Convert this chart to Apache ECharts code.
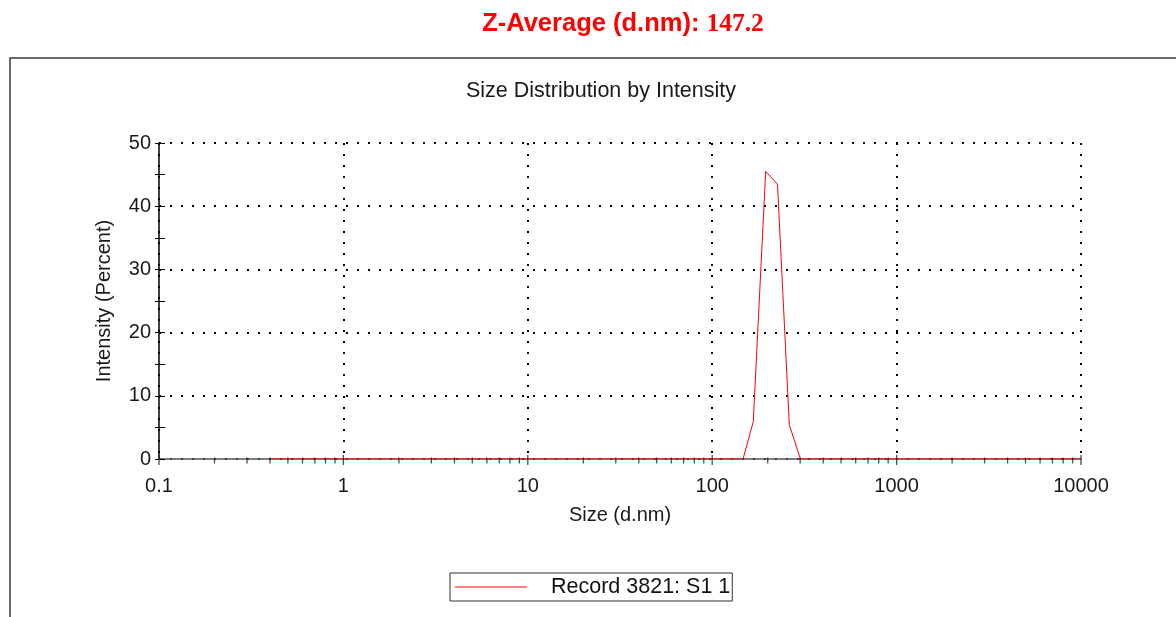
<!DOCTYPE html>
<html>
<head>
<meta charset="utf-8">
<title>Size Distribution by Intensity</title>
<script src="https://cdn.jsdelivr.net/npm/echarts@6/dist/echarts.min.js"></script>
<style>
  html, body { margin: 0; padding: 0; background: #fff; }
  #chart { width: 1176px; height: 617px; }
</style>
</head>
<body>
<div id="chart"></div>
<script>
// Size classes (d.nm) and intensity (%) of the measured record
const sizes     = [0.4, 147, 167, 195, 226, 262, 301, 10000];
const intensity = [0,   0,   5.9, 45.5, 43.5, 5.4, 0,  0];

const seriesName = 'Record 3821: S1 1';
const zAverage = '147.2';

// Axis ticks
const xDecades = [0.1, 1, 10, 100, 1000, 10000];
const xTickLabels = ['0.1', '1', '10', '100', '1000', '10000'];
const xMinorSteps = [2, 3, 4, 5, 6, 7, 8, 9];
const yTicks = [0, 10, 20, 30, 40, 50];

const FONT = '"Liberation Sans", Arial, sans-serif';

// Minor tick positions between decades on the log size axis
const minorTickPos = [];
for (let i = 0; i < xDecades.length - 1; i++) {
  xMinorSteps.forEach(m => minorTickPos.push([xDecades[i] * m, 0]));
}
const majorTickPos = xDecades.map(d => [d, 0]);

const chart = echarts.init(document.getElementById('chart'), null, { renderer: 'canvas' });

const gridDots = { color: '#000', width: 2, type: [2, 9] };

chart.setOption({
  animation: false,
  backgroundColor: '#fff',
  title: [
    {
      text: '{a|Z-Average (d.nm): }{b|' + zAverage + '}',
      left: 618, top: 6, textAlign: 'center',
      textStyle: {
        rich: {
          a: { fontFamily: FONT, fontWeight: 'bold', fontSize: 25.5, color: '#ff0000' },
          b: { fontFamily: '"Liberation Serif", "Times New Roman", serif', fontWeight: 'bold', fontSize: 25.5, color: '#ff0000' }
        }
      }
    },
    {
      text: 'Size Distribution by Intensity',
      left: 596, top: 75, textAlign: 'center',
      textStyle: { fontFamily: FONT, fontWeight: 'normal', fontSize: 21.5, color: '#1a1a1a' }
    }
  ],
  graphic: [
    {
      type: 'rect', z: -1,
      shape: { x: 10, y: 58, width: 1200, height: 620 },
      style: { fill: 'none', stroke: '#3a3a3a', lineWidth: 1.5 }
    }
  ],
  legend: {
    data: [{ name: seriesName, icon: 'rect', itemStyle: { color: '#ff0000' } }],
    left: 450, top: 573,
    padding: [3, 2, 3, 5],
    borderColor: '#333', borderWidth: 1, borderRadius: 0,
    itemWidth: 72, itemHeight: 1,
    textStyle: { fontFamily: FONT, fontSize: 21.5, color: '#111', padding: [0, 0, 0, 19] }
  },
  grid: { left: 159, right: 95, top: 143, bottom: 158, containLabel: false },
  xAxis: {
    type: 'log', logBase: 10, min: 0.1, max: 10000,
    name: 'Size (d.nm)', nameLocation: 'middle', nameGap: 46,
    nameTextStyle: { fontFamily: FONT, fontSize: 20, color: '#1a1a1a' },
    axisLine: { show: true, onZero: false, lineStyle: { color: '#555', width: 1.5 } },
    axisTick: { show: false },
    axisLabel: {
      margin: 17, fontFamily: FONT, fontSize: 20, color: '#1a1a1a',
      formatter: v => {
        const i = xDecades.findIndex(d => Math.abs(Math.log10(d) - Math.log10(v)) < 1e-6);
        return i >= 0 ? xTickLabels[i] : '';
      }
    },
    splitLine: { show: true, lineStyle: gridDots }
  },
  yAxis: [
    {
      type: 'value', min: 0, max: 50, interval: 10,
      name: 'Intensity (Percent)', nameLocation: 'middle', nameGap: 45, nameRotate: 90,
      nameTextStyle: { fontFamily: FONT, fontSize: 20, color: '#1a1a1a' },
      axisLine: { show: true, lineStyle: { color: '#000', width: 1.5 } },
      axisTick: { show: true, inside: false, length: 4, lineStyle: { color: '#000', width: 1 } },
      minorTick: { show: true, splitNumber: 2, length: 4, lineStyle: { color: '#000', width: 1 } },
      axisLabel: {
        margin: 8, fontFamily: FONT, fontSize: 20, color: '#1a1a1a',
        formatter: v => (yTicks.indexOf(v) >= 0 ? String(v) : '')
      },
      splitLine: { show: true, lineStyle: gridDots }
    },
    {
      // inner half of the crossing ticks on the intensity axis
      type: 'value', min: 0, max: 50, interval: 10, position: 'left', offset: 0,
      axisLine: { show: false },
      axisTick: { show: true, inside: true, length: 6, lineStyle: { color: '#000', width: 1 } },
      minorTick: { show: true, splitNumber: 2, length: 6, lineStyle: { color: '#000', width: 1 } },
      axisLabel: { show: false },
      splitLine: { show: false }
    }
  ],
  series: [
    {
      name: seriesName,
      type: 'line',
      data: sizes.map((s, i) => [s, intensity[i]]),
      showSymbol: false, symbol: 'none',
      lineStyle: { color: '#ff0000', width: 1 },
      itemStyle: { color: '#ff0000' },
      z: 3
    },
    {
      // decade tick marks crossing the size axis
      name: 'majorTicks', type: 'scatter', data: majorTickPos,
      symbol: 'rect', symbolSize: [1.3, 10], symbolOffset: [0, 1],
      itemStyle: { color: '#222' }, silent: true, z: 5, legendHoverLink: false
    },
    {
      // minor tick marks between decades
      name: 'minorTicks', type: 'scatter', data: minorTickPos,
      symbol: 'rect', symbolSize: [1.3, 6], symbolOffset: [0, 1.5],
      itemStyle: { color: '#222' }, silent: true, z: 5, legendHoverLink: false
    }
  ]
});
</script>
</body>
</html>
